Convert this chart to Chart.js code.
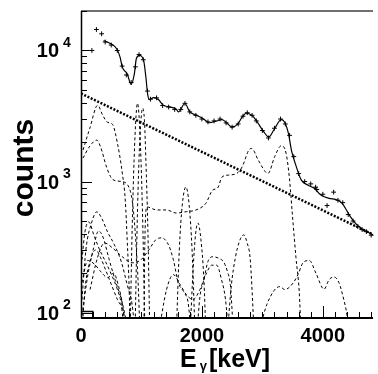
<!DOCTYPE html>
<html><head><meta charset="utf-8">
<script src="https://cdn.jsdelivr.net/npm/chart.js@4/dist/chart.umd.min.js"></script>
<style>html,body{margin:0;padding:0;background:#fff;}canvas{display:block;}</style>
</head><body>
<canvas id="c" width="378" height="374"></canvas>
<script>
// ---- tick labels / axis ranges ----
const xTickLabels = [0, 2000, 4000];
const yTickLabels = [100, 1000, 10000];
const xRange = [0, 4830];
const yRange = [91, 20000];

// ---- measured spectrum (E [keV], counts) ----
const dataPoints = [[180,10000],[255,14450],[341,13400],[400,11600],[500,11000],[600,10000],[680,7600],[750,6500],[830,5700],[900,7500],[960,9300],[1030,8500],[1100,4900],[1150,4250],[1250,4350],[1350,3800],[1450,3700],[1550,3550],[1650,3550],[1720,3950],[1800,3400],[1900,3200],[2000,3000],[2100,2850],[2200,2900],[2300,3000],[2400,2800],[2500,2600],[2600,2750],[2680,3150],[2750,3350],[2830,3200],[2900,2900],[3000,2450],[3100,2150],[3200,2550],[3300,3000],[3380,2750],[3450,2250],[3520,1550],[3600,1150],[3700,1000],[3800,960],[3881,906],[3900,870],[4000,800],[4070,656],[4179,830],[4250,720],[4330,690],[4420,560],[4500,500],[4580,455],[4650,430],[4720,415],[4800,390]];

// ---- total fit ----
const fitCurve = [[374,11900],[493,11250],[590,10300],[646,8900],[683,7460],[764,6650],[829,5510],[883,6650],[915,8650],[967,9170],[1036,8390],[1073,6270],[1101,4690],[1133,4220],[1198,4370],[1280,4220],[1361,3820],[1468,3710],[1577,3560],[1610,3400],[1719,3940],[1800,3400],[1907,3210],[2016,3030],[2122,2810],[2233,2890],[2330,2970],[2395,2850],[2496,2610],[2593,2740],[2667,3110],[2732,3320],[2824,3210],[2906,2890],[3016,2420],[3106,2190],[3203,2540],[3312,2970],[3366,2850],[3431,2330],[3480,1740],[3561,1300],[3642,1030],[3751,940],[3859,888],[3967,789],[4102,745],[4239,723],[4320,682],[4455,540],[4564,467],[4672,428],[4780,403],[4830,392]];

// ---- exponential background ----
const background = [[0,4700],[4830,394]];

// ---- low-energy step ----
const stepLine = [[0,102],[195,102],[195,70]];

// ---- response components (dashed) ----
const compB = [[33,1738],[146,2552],[276,3820],[358,3210],[439,2833],[520,2737],[602,1965],[683,1160],[732,723],[764,359],[797,150],[813,70]];
const compC = [[33,1510],[146,1864],[260,2070],[325,1830],[423,1288],[504,1063],[602,1009],[715,991],[797,893],[846,723],[894,428],[943,178],[976,70]];
const compD1 = [[16,126],[81,301],[179,492],[260,587],[341,527],[439,413],[553,329],[667,244],[764,163],[846,115],[894,70]];
const compD2 = [[16,70],[65,150],[146,244],[244,301],[325,262],[407,212],[504,163],[602,126],[699,102],[764,70]];
const compD3 = [[16,253],[65,413],[130,492],[211,392],[309,301],[407,244],[504,195],[602,150],[667,115],[715,70]];
const compD4 = [[16,95],[110,190],[200,300],[290,420],[370,370],[460,260],[560,180],[650,135],[720,100],[780,70]];
const compD5 = [[16,170],[110,250],[220,235],[330,205],[440,185],[540,200],[620,160],[690,112],[740,70]];
const compG = [[150,150],[270,260],[390,340],[520,312],[683,267],[846,240],[992,253],[1122,301],[1236,359],[1333,372],[1447,329],[1528,253],[1610,169],[1707,142],[1772,119],[1821,70]];
const compN1 = [[813,70],[846,428],[878,1457],[911,3210],[935,3955],[959,3210],[992,1457],[1024,428],[1057,70]];
const compN2 = [[894,70],[927,428],[959,1457],[992,2940],[1020,3626],[1049,2940],[1073,1457],[1106,428],[1138,70]];
const compA = [[1040,70],[1057,359],[1089,640],[1252,607],[1415,607],[1577,575],[1740,589],[1902,607],[2065,682],[2179,861],[2260,893],[2333,1082],[2439,1120],[2577,1154],[2667,1297],[2776,1738],[2824,1788],[2932,1457],[3094,1154],[3203,1545],[3312,1875],[3393,1637],[3447,1064],[3501,527],[3556,262],[3610,144],[3640,70]];
const compE = [[2943,70],[3073,115],[3289,158],[3371,150],[3507,168],[3589,195],[3670,239],[3777,250],[3886,200],[4021,151],[4102,178],[4184,187],[4265,170],[4346,126],[4402,94],[4430,70]];
const compF1 = [[1577,70],[1626,301],[1675,662],[1735,908],[1789,662],[1837,301],[1886,70]];
const compF2 = [[1805,70],[1854,212],[1894,392],[1935,483],[1984,359],[2033,178],[2065,70]];
const compF3 = [[1919,70],[1967,132],[2033,178],[2098,244],[2179,267],[2293,258],[2358,244],[2423,205],[2472,160],[2520,70]];
const compF4 = [[2423,70],[2488,163],[2553,262],[2618,347],[2691,392],[2748,340],[2797,262],[2829,150],[2862,70]];
const compH = [[1284,70],[1415,150],[1528,195],[1642,163],[1740,138],[1854,126],[1967,150],[2065,195],[2163,230],[2244,230],[2325,178],[2390,126],[2439,70]];

const components = [compB, compC, compD1, compD2, compD3, compD4, compD5, compG, compN1, compN2, compA, compE, compF1, compF2, compF3, compF4, compH];

const FONT = '"Liberation Sans", Arial, Helvetica, sans-serif';
const toXY = arr => arr.map(p => ({x: p[0], y: p[1]}));

const datasets = [];
components.forEach(c => datasets.push({
  data: toXY(c), borderColor: '#000', borderWidth: 1, borderDash: [3, 2.5],
  pointRadius: 0, fill: false, cubicInterpolationMode: 'monotone', clip: 0
}));
datasets.push({data: toXY(stepLine), borderColor: '#000', borderWidth: 1.5, pointRadius: 0, tension: 0, clip: 0});
datasets.push({data: toXY(background), borderColor: '#000', borderWidth: 2.5, borderDash: [2, 1.6], pointRadius: 0, tension: 0, clip: 0});
datasets.push({data: toXY(fitCurve), borderColor: '#000', borderWidth: 1.2, pointRadius: 0, cubicInterpolationMode: 'monotone', clip: 0});
datasets.push({data: toXY(dataPoints), showLine: false, pointStyle: 'cross', pointRadius: 2.4, borderColor: '#000', borderWidth: 1, clip: 2});

const axesPlugin = {
  id: 'axesDeco',
  afterDraw(chart) {
    const ctx = chart.ctx, a = chart.chartArea, xs = chart.scales.x, ys = chart.scales.y;
    ctx.save();
    // frame
    ctx.strokeStyle = '#000';
    ctx.lineWidth = 1.5;
    ctx.beginPath(); ctx.moveTo(a.left + 0.5, a.top); ctx.lineTo(a.left + 0.5, a.bottom); ctx.stroke();
    ctx.lineWidth = 2;
    ctx.beginPath(); ctx.moveTo(a.left, a.bottom); ctx.lineTo(a.right, a.bottom); ctx.stroke();
    ctx.strokeStyle = '#707070';
    ctx.beginPath(); ctx.moveTo(a.left, a.top); ctx.lineTo(a.right, a.top); ctx.stroke();
    // y ticks
    ctx.strokeStyle = '#000'; ctx.lineWidth = 1;
    for (let n = 1; n <= 4; n++) {
      for (let k = 1; k <= 9; k++) {
        const v = k * Math.pow(10, n);
        if (v < yRange[0] || v > yRange[1]) continue;
        const py = Math.round(ys.getPixelForValue(v)) + 0.5;
        const len = k === 1 ? 11 : 6;
        ctx.beginPath(); ctx.moveTo(a.left, py); ctx.lineTo(a.left + len, py); ctx.stroke();
      }
    }
    // x ticks
    for (let e = 0; e <= xRange[1]; e += 200) {
      const px = Math.round(xs.getPixelForValue(e)) + 0.5;
      const len = e % 2000 === 0 ? 12 : 6;
      ctx.beginPath(); ctx.moveTo(px, a.bottom); ctx.lineTo(px, a.bottom - len); ctx.stroke();
    }
    // y labels
    ctx.fillStyle = '#000';
    yTickLabels.forEach(v => {
      const py = ys.getPixelForValue(v);
      ctx.font = 'bold 20px ' + FONT;
      ctx.textAlign = 'right'; ctx.textBaseline = 'alphabetic';
      ctx.fillText('10', 59, py + 7);
      ctx.font = 'bold 14px ' + FONT;
      ctx.textAlign = 'left';
      ctx.fillText(String(Math.round(Math.log10(v))), 63, py - 3.5);
    });
    // x labels
    ctx.font = 'bold 20px ' + FONT;
    ctx.textAlign = 'center'; ctx.textBaseline = 'alphabetic';
    xTickLabels.forEach(e => {
      ctx.fillText(String(e), xs.getPixelForValue(e), 342);
    });
    // y title
    ctx.save();
    ctx.translate(33, 168);
    ctx.rotate(-Math.PI / 2);
    ctx.font = 'bold 30px ' + FONT;
    ctx.textAlign = 'center';
    ctx.fillText('counts', 0, 0);
    ctx.restore();
    // x title
    ctx.textAlign = 'left';
    ctx.font = 'bold 25px ' + FONT;
    let x0 = 180;
    ctx.fillText('E', x0, 367);
    x0 += ctx.measureText('E').width + 3;
    ctx.font = 'bold 13px ' + FONT;
    ctx.fillText('γ', x0, 370);
    x0 += ctx.measureText('γ').width + 2;
    ctx.font = 'bold 25px ' + FONT;
    ctx.fillText('[keV]', x0, 367);
    ctx.restore();
  }
};

new Chart(document.getElementById('c'), {
  type: 'line',
  data: {datasets},
  options: {
    responsive: false, animation: false, events: [],
    layout: {padding: {left: 81, top: 11, right: 0, bottom: 56}},
    plugins: {legend: {display: false}, tooltip: {enabled: false}},
    scales: {
      x: {type: 'linear', min: xRange[0], max: xRange[1], display: false},
      y: {type: 'logarithmic', min: yRange[0], max: yRange[1], display: false}
    }
  },
  plugins: [axesPlugin]
});
</script>
</body></html>
